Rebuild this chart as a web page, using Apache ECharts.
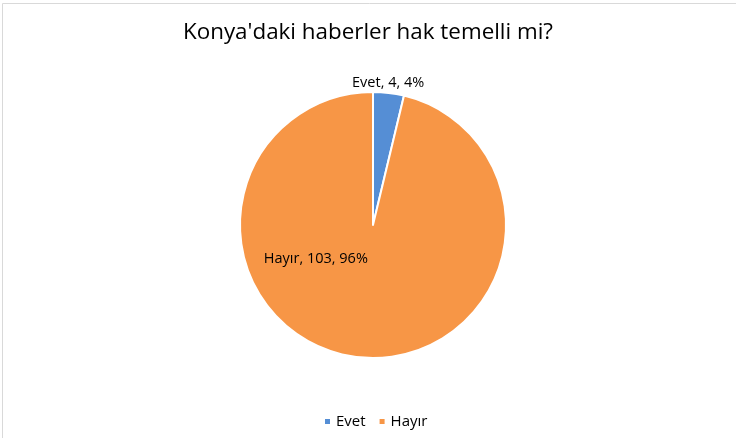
<!DOCTYPE html>
<html>
<head>
<meta charset="utf-8">
<script src="https://cdn.jsdelivr.net/npm/echarts@6/dist/echarts.min.js"></script>
<style>
  html, body { margin: 0; padding: 0; background: #fff; }
  #chart { width: 736px; height: 438px; }
</style>
</head>
<body>
<div id="chart"></div>
<script>
const titleText = "Konya'daki haberler hak temelli mi?"
const categories = ['Evet', 'Hayır']
const values = [4, 103]
const colors = ['#558ED5', '#F79646']

// label positions nudged to where the original places them
const labelOffsets = [[7, -73], [-49, -35]]

const chart = echarts.init(document.getElementById('chart'))

const pieData = categories.map((name, i) => ({
  name,
  value: values[i],
  itemStyle: { color: colors[i] },
  label: { offset: labelOffsets[i] },
}))

const options = {
  animation: false,
  textStyle: { fontFamily: 'Open Sans' },
  title: {
    text: titleText,
    left: 'center',
    top: 17,
    textStyle: {
      fontFamily: 'Open Sans',
      fontSize: 22.4,
      fontWeight: 'normal',
      color: '#000',
    },
  },
  graphic: [
    {
      type: 'rect',
      shape: { x: 2.5, y: 3.5, width: 740, height: 440 },
      style: { fill: 'none', stroke: '#d9d9d9', lineWidth: 1 },
      silent: true,
    },
  ],
  legend: {
    data: categories,
    bottom: 4,
    left: 318,
    itemWidth: 7,
    itemHeight: 7,
    itemGap: 12,
    icon: 'rect',
    textStyle: { fontSize: 15, color: '#000', fontFamily: 'Open Sans' },
  },
  series: [
    {
      type: 'pie',
      center: [373, 225],
      radius: 133,
      startAngle: 90,
      percentPrecision: 0,
      itemStyle: { borderColor: '#fff', borderWidth: 2 },
      label: {
        show: true,
        position: 'inside',
        formatter: '{b}, {c}, {d}%',
        color: '#000',
        fontSize: 14.5,
        fontFamily: 'Open Sans',
      },
      labelLine: { show: false },
      emphasis: { disabled: true },
      data: pieData,
    },
  ],
}

chart.setOption(options, true)
</script>
</body>
</html>
